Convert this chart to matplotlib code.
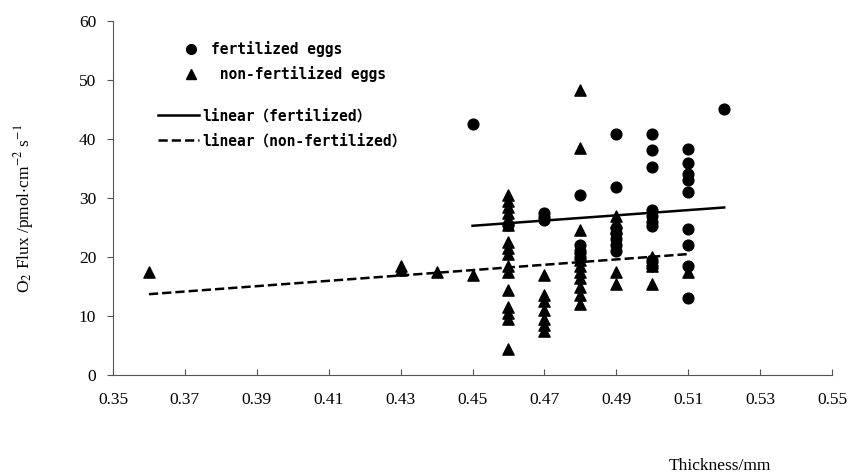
import numpy as np
import matplotlib.pyplot as plt
from matplotlib.lines import Line2D

plt.rcParams['mathtext.fontset'] = 'stix'

# fertilized eggs (circles)
fert_x = [0.45,
          0.46,
          0.47, 0.47, 0.47,
          0.48, 0.48, 0.48, 0.48,
          0.49, 0.49, 0.49, 0.49, 0.49, 0.49, 0.49,
          0.50, 0.50, 0.50, 0.50, 0.50, 0.50, 0.50, 0.50, 0.50,
          0.51, 0.51, 0.51, 0.51, 0.51, 0.51, 0.51, 0.51, 0.51,
          0.52]
fert_y = [42.5,
          25.5,
          27.5, 26.8, 26.2,
          30.5, 22.0, 21.0, 20.0,
          40.8, 31.8, 25.0, 24.0, 23.0, 22.0, 21.0,
          40.8, 38.2, 35.3, 28.0, 27.0, 26.0, 25.3, 19.5, 18.5,
          38.3, 36.0, 34.0, 33.0, 31.0, 24.8, 22.0, 18.5, 13.0,
          45.0]

# non-fertilized eggs (triangles)
nonf_x = [0.36,
          0.43, 0.43,
          0.44,
          0.45] + [0.46] * 16 + [0.47] * 7 + [0.48] * 12 + [0.49] * 5 + [0.50] * 4 + [0.51]
nonf_y = [17.5,
          18.5, 17.8,
          17.5,
          17.0,
          30.5, 29.5, 28.5, 27.5, 26.5, 25.5, 22.5, 21.5, 20.5, 18.5, 17.5, 14.5, 11.5, 10.5, 9.5, 4.5,
          17.0, 13.5, 12.5, 11.0, 9.5, 8.5, 7.5,
          48.3, 38.5, 24.5, 21.5, 20.5, 19.5, 18.5, 17.5, 16.5, 15.0, 13.5, 12.0,
          27.0, 26.0, 25.0, 17.5, 15.5,
          20.0, 19.0, 18.5, 15.5,
          17.5]

# trend lines (slope, intercept, x range)
fert_fit = (44.3, 5.36, 0.45, 0.52)
nonf_fit = (45.3, -2.6, 0.36, 0.51)

xticks = [0.35, 0.37, 0.39, 0.41, 0.43, 0.45, 0.47, 0.49, 0.51, 0.53, 0.55]
yticks = [0, 10, 20, 30, 40, 50, 60]

fig = plt.figure(figsize=(8.52, 4.76), dpi=100)
ax = fig.add_axes([0.1326, 0.212, 0.844, 0.744])

ax.scatter(fert_x, fert_y, marker='o', s=60, color='black', zorder=3)
ax.scatter(nonf_x, nonf_y, marker='^', s=65, color='black', zorder=3)

for (k, b, x0, x1), ls in [(fert_fit, '-'), (nonf_fit, '--')]:
    xs = np.array([x0, x1])
    ax.plot(xs, k * xs + b, color='black', lw=1.8, ls=ls, zorder=4)

ax.set_xlim(0.35, 0.55)
ax.set_ylim(0, 60)
ax.set_xticks(xticks)
ax.set_xticklabels(['%.2f' % v for v in xticks])
ax.set_yticks(yticks)
for s in ['top', 'right']:
    ax.spines[s].set_visible(False)
for s in ['left', 'bottom']:
    ax.spines[s].set_color('#555555')
ax.tick_params(axis='both', length=4, color='#555555', labelsize=12.5, pad=8)
ax.tick_params(axis='x', direction='in', pad=12)
ax.tick_params(axis='y', direction='out')
for lab in ax.get_xticklabels() + ax.get_yticklabels():
    lab.set_fontfamily('Liberation Serif')

ax.set_ylabel(r'O$_2$ Flux /pmol$\cdot$cm$^{-2}$ s$^{-1}$', fontsize=12.5,
              fontfamily='Liberation Serif', labelpad=34)
ax.yaxis.set_label_coords(-0.107, 0.47)
fig.text(0.845, 0.038, 'Thickness/mm', fontsize=12.5, fontfamily='Liberation Serif',
         ha='center', va='top')

prop = {'family': ['DejaVu Sans Mono', 'Noto Sans CJK SC'], 'size': 10.5, 'weight': 'bold'}
h_marks = [Line2D([], [], marker='o', ls='none', color='black', markersize=7),
           Line2D([], [], marker='^', ls='none', color='black', markersize=7)]
leg1 = ax.legend(h_marks, ['fertilized eggs', ' non-fertilized eggs'],
                 loc='upper left', bbox_to_anchor=(0.075, 0.98), frameon=False,
                 prop=prop, handlelength=1.5, labelspacing=0.6, handletextpad=0.6)
ax.add_artist(leg1)
h_lines = [Line2D([], [], color='black', lw=1.8),
           Line2D([], [], color='black', lw=1.8, ls='--')]
ax.legend(h_lines, ['linear\uff08fertilized\uff09', 'linear\uff08non-fertilized\uff09'],
          loc='upper left', bbox_to_anchor=(0.045, 0.79), frameon=False,
          prop=prop, handlelength=2.8, labelspacing=0.68, handletextpad=0.2)

fig.savefig('out.png', dpi=100)
